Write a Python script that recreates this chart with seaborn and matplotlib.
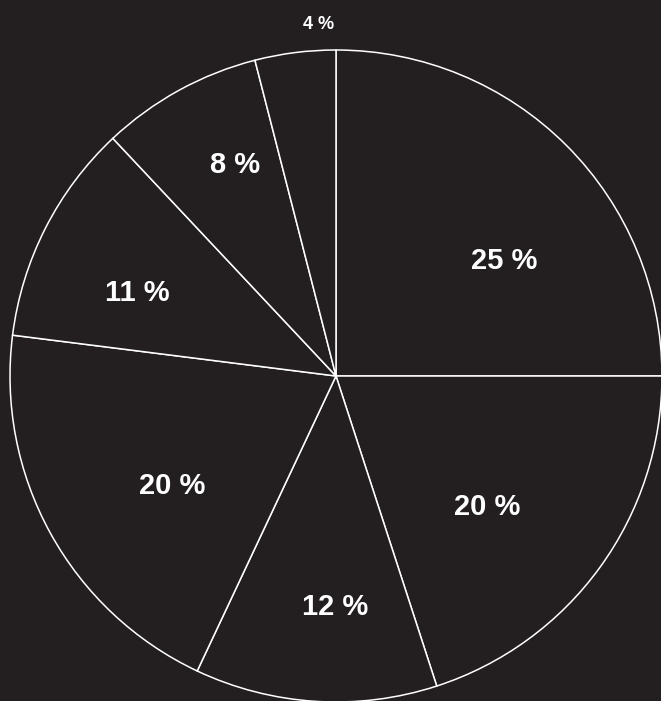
import numpy as np
import matplotlib
matplotlib.use("Agg")
import matplotlib.pyplot as plt
import seaborn as sns

# share of each slice, clockwise from 12 o'clock
shares = [25, 20, 12, 20, 11, 8, 4]
labels = [f"{s} %" for s in shares]

# where each label sits: fraction of radius, and a small turn (deg) off the slice middle
label_radius = [0.630, 0.606, 0.698, 0.601, 0.664, 0.724, 1.087]
label_turn = [-9.8, -4.2, 3.3, 4.4, 3.6, -3.6, -4.3]
label_size = [21, 21, 21, 21, 21, 21, 13]

bg = "#231f20"
sns.set_theme(style="dark", rc={"figure.facecolor": bg, "axes.facecolor": bg})
plt.rcParams["font.family"] = ["Liberation Sans", "DejaVu Sans"]

W, H, dpi = 661, 701, 100
fig = plt.figure(figsize=(W / dpi, H / dpi), dpi=dpi)
ax = fig.add_axes([0, 0, 1, 1])
ax.set_facecolor(bg)

wedges, _ = ax.pie(shares, startangle=90, counterclock=False,
                   colors=[bg] * len(shares),
                   wedgeprops=dict(edgecolor="white", linewidth=1.1))

for w, lab, r, t, fs in zip(wedges, labels, label_radius, label_turn, label_size):
    mid = np.deg2rad((w.theta1 + w.theta2) / 2 + t)
    ax.text(r * np.cos(mid), r * np.sin(mid), lab, color="white",
            fontsize=fs, fontweight="bold", ha="center", va="center_baseline")

# pie centre sits at (336, 376) px from top-left, radius 326 px
R, cx, cy = 326, 336, 376
ax.set_aspect("auto")
ax.set_xlim(-cx / R, (W - cx) / R)
ax.set_ylim(-(H - cy) / R, cy / R)
ax.axis("off")

fig.savefig("out.png", dpi=dpi, facecolor=bg)
